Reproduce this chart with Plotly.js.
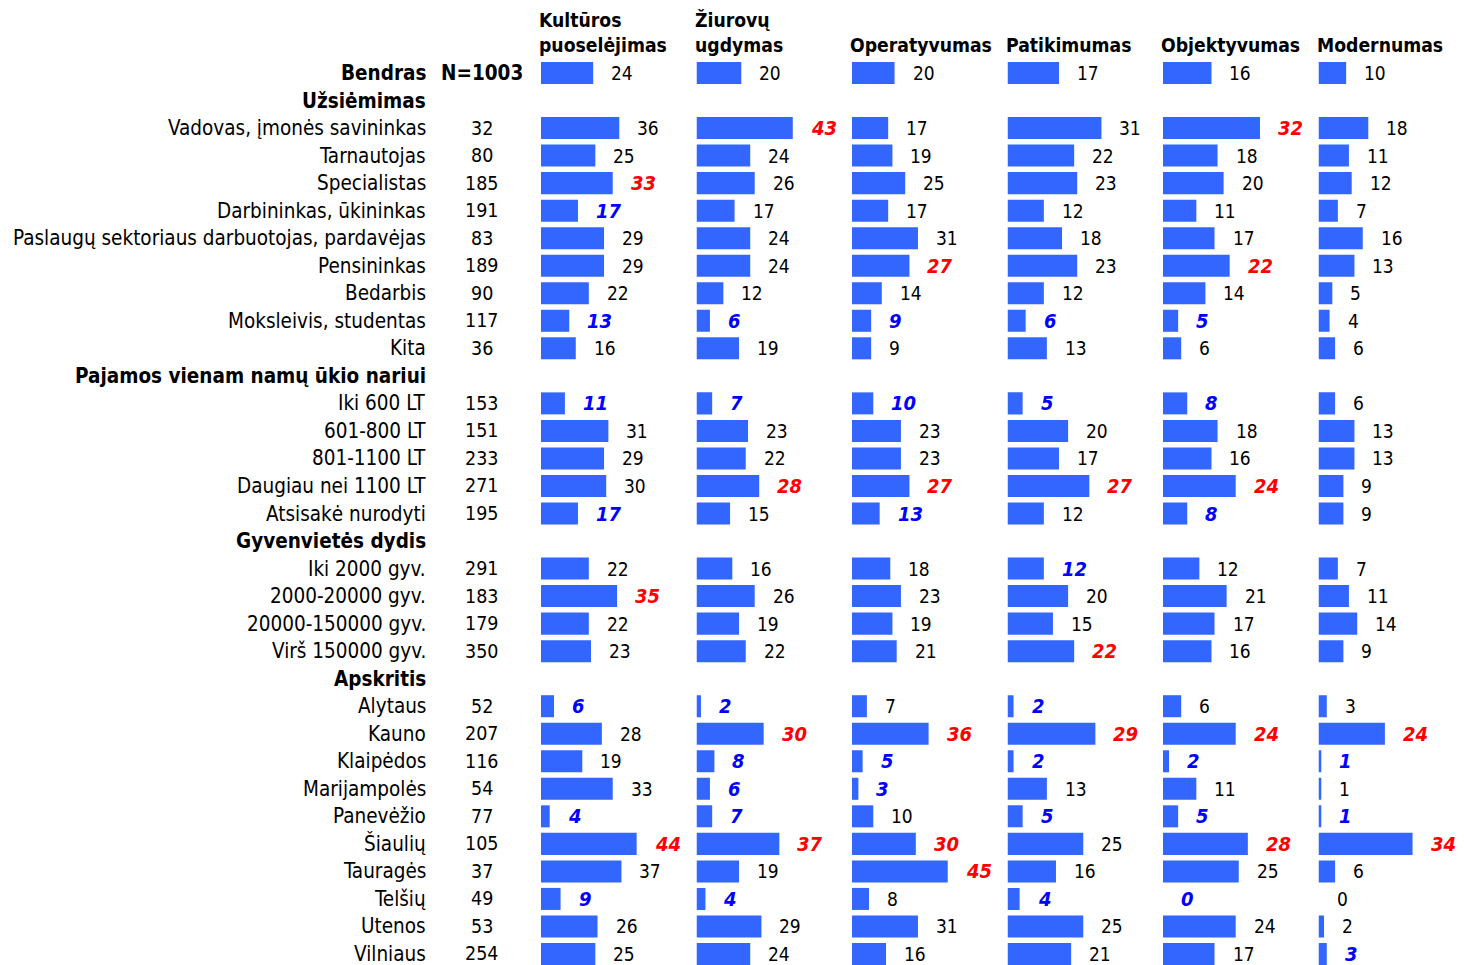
<!DOCTYPE html>
<html><head><meta charset="utf-8">
<script src="https://cdn.plot.ly/plotly-3.0.1.min.js"></script>
<style>body{margin:0;background:#fff}#chart{width:1464px;height:965px}</style>
</head><body><div id="chart"></div>
<script>
const rowLabels = ["Bendras","Užsiėmimas","Vadovas, įmonės savininkas","Tarnautojas","Specialistas","Darbininkas, ūkininkas","Paslaugų sektoriaus darbuotojas, pardavėjas","Pensininkas","Bedarbis","Moksleivis, studentas","Kita","Pajamos vienam namų ūkio nariui","Iki 600 LT","601-800 LT","801-1100 LT","Daugiau nei 1100 LT","Atsisakė nurodyti","Gyvenvietės dydis","Iki 2000 gyv.","2000-20000 gyv.","20000-150000 gyv.","Virš 150000 gyv.","Apskritis","Alytaus","Kauno","Klaipėdos","Marijampolės","Panevėžio","Šiaulių","Tauragės","Telšių","Utenos","Vilniaus"];
const boldRows = ["Bendras","Užsiėmimas","Pajamos vienam namų ūkio nariui","Gyvenvietės dydis","Apskritis"];
const nValues = ["N=1003","","32","80","185","191","83","189","90","117","36","","153","151","233","271","195","","291","183","179","350","","52","207","116","54","77","105","37","49","53","254"];
const colTitles = ["Kultūros<br>puoselėjimas","Žiurovų<br>ugdymas","Operatyvumas","Patikimumas","Objektyvumas","Modernumas"];

const kultura      = [24,null,36,25,33,17,29,29,22,13,16,null,11,31,29,30,17,null,22,35,22,23,null,6,28,19,33,4,44,37,9,26,25];
const ziurovu      = [20,null,43,24,26,17,24,24,12,6,19,null,7,23,22,28,15,null,16,26,19,22,null,2,30,8,6,7,37,19,4,29,24];
const operatyvumas = [20,null,17,19,25,17,31,27,14,9,9,null,10,23,23,27,13,null,18,23,19,21,null,7,36,5,3,10,30,45,8,31,16];
const patikimumas  = [17,null,31,22,23,12,18,23,12,6,13,null,5,20,17,27,12,null,12,20,15,22,null,2,29,2,13,5,25,16,4,25,21];
const objektyvumas = [16,null,32,18,20,11,17,22,14,5,6,null,8,18,16,24,8,null,12,21,17,16,null,6,24,2,11,5,28,25,0,24,17];
const modernumas   = [10,null,18,11,12,7,16,13,5,4,6,null,6,13,13,9,9,null,7,11,14,9,null,3,24,1,1,1,34,6,0,2,3];

// h = significantly higher (red), l = lower (blue), n = normal, - = group header
const kulturaFlags      = "n-nnhlnnnln-lnnnl-nhnn-lnnnlhnlnn";
const ziurovuFlags      = "n-hnnnnnnln-lnnhn-nnnn-lhlllhnlnn";
const operatyvumasFlags = "n-nnnnnhnln-lnnhl-nnnn-nhllnhhnnn";
const patikimumasFlags  = "n-nnnnnnnln-lnnhn-lnnh-lhlnlnnlnn";
const objektyvumasFlags = "n-hnnnnhnln-lnnhl-nnnn-nhlnlhnlnn";
const modernumasFlags   = "n-nnnnnnnnn-nnnnn-nnnn-nhlnlhnnnl";

const cols = [kultura, ziurovu, operatyvumas, patikimumas, objektyvumas, modernumas];
const flags = [kulturaFlags, ziurovuFlags, operatyvumasFlags, patikimumasFlags, objektyvumasFlags, modernumasFlags];

const W = 1464, H = 965;
const FONT = "'DejaVu Sans Condensed', 'DejaVu Sans', Verdana, sans-serif";
const colStart = [541, 696.5, 852, 1007.5, 1163, 1318.5];
const colRange = [69, 67, 70.5, 49.5, 49.5, 52.6];
const domW = 150;
const idx = rowLabels.map((_, i) => i);

const data = [];
const layout = {
  width: W, height: H,
  margin: {l: 0, r: 0, t: 0, b: 0},
  paper_bgcolor: '#fff', plot_bgcolor: '#fff',
  showlegend: false, barmode: 'overlay',
  font: {family: FONT, size: 19, color: '#000'},
  yaxis: {
    range: [32.4, -2.652], anchor: 'free', position: 0,
    showgrid: false, zeroline: false, showline: false, ticks: '', showticklabels: false
  },
  annotations: []
};

// row labels, right-aligned
rowLabels.forEach((l, r) => {
  const bold = boldRows.includes(l);
  layout.annotations.push({
    xref: 'paper', yref: 'y', x: 428 / W, y: r, xanchor: 'right', yanchor: 'middle', showarrow: false,
    text: bold ? '<b>' + l + '</b>' : l,
    font: {family: FONT, size: 20.5, color: '#000'}
  });
});

cols.forEach((vals, i) => {
  const ax = i === 0 ? 'x' : 'x' + (i + 1);
  const axName = i === 0 ? 'xaxis' : 'xaxis' + (i + 1);
  layout[axName] = {
    domain: [colStart[i] / W, (colStart[i] + domW) / W],
    range: [0, colRange[i]], anchor: 'y', visible: false, fixedrange: true
  };
  data.push({
    type: 'bar', orientation: 'h', x: vals, y: idx, xaxis: ax, yaxis: 'y',
    width: 0.8, marker: {color: '#3366FF', line: {width: 0}},
    hoverinfo: 'skip'
  });
  vals.forEach((v, r) => {
    if (v === null) return;
    const f = flags[i][r];
    let text = String(v), color = '#000', size = 19;
    if (f === 'h') { text = '<b><i>' + v + '</i></b>'; color = '#FF0000'; size = 20; }
    if (f === 'l') { text = '<b><i>' + v + '</i></b>'; color = '#0000FF'; size = 20; }
    layout.annotations.push({
      xref: ax, yref: 'y', x: v, y: r, text: text, xanchor: 'left', yanchor: 'middle',
      xshift: 16, showarrow: false, font: {family: FONT, size: size, color: color}
    });
  });
  layout.annotations.push({
    xref: 'paper', yref: 'paper', x: (colStart[i] - 4) / W, y: 1 - 58.5 / H,
    xanchor: 'left', yanchor: 'bottom', align: 'left', showarrow: false,
    text: '<b>' + colTitles[i] + '</b>', font: {family: FONT, size: 19.2, color: '#000'}
  });
});

layout.xaxis7 = {domain: [441 / W, 523 / W], range: [-1, 1], anchor: 'y', visible: false};
data.push({
  type: 'scatter', mode: 'markers', xaxis: 'x7', yaxis: 'y',
  x: idx.map(() => 0), y: idx, marker: {opacity: 0}, hoverinfo: 'skip'
});
nValues.forEach((n, r) => {
  if (!n) return;
  layout.annotations.push({
    xref: 'x7', yref: 'y', x: 0, y: r, xanchor: 'center', yanchor: 'middle', showarrow: false,
    text: r === 0 ? '<b>' + n + '</b>' : n,
    font: {family: FONT, size: r === 0 ? 20.5 : 19.5, color: '#000'}
  });
});

Plotly.newPlot('chart', data, layout, {displayModeBar: false, staticPlot: true});
</script>
</body></html>
